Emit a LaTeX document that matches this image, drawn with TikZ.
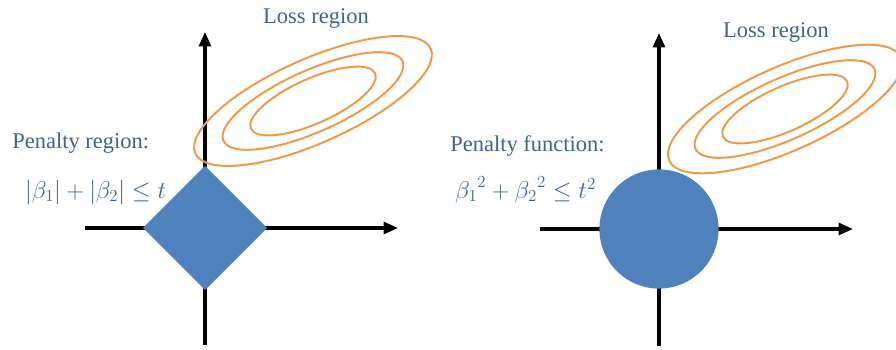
\documentclass[tikz,border=0pt]{standalone}
\usepackage{amsmath, amssymb}
\usepackage{fontspec}
\setmainfont{Liberation Serif}
\usetikzlibrary{arrows.meta}

\definecolor{penblue}{HTML}{4F81BD}
\definecolor{lossorange}{HTML}{F0984A}
\definecolor{labelblue}{HTML}{3E6196}

\tikzset{
  axis/.style={line width=2.2pt, -{Triangle[length=0.36cm, width=0.3cm]}},
  contour/.style={draw=lossorange, line width=1.4pt},
  lbl/.style={text=labelblue, font=\fontsize{16}{19}\selectfont, inner sep=0pt},
  eqn/.style={lbl, font=\fontsize{17.5}{21}\selectfont}
}

\begin{document}
\begin{tikzpicture}
			\useasboundingbox (0,0) rectangle (22.4,8.75);
			
			% Left panel: lasso
			\coordinate (O1) at (5.125,3.05);
			\coordinate (L1) at (2.125,3.05);
			\coordinate (R1) at (9.95,3.05);
			\coordinate (B1) at (5.125,0.125);
			\coordinate (T1) at (5.125,7.95);
			\draw[axis] (L1) -- (R1);
			\draw[axis] (B1) -- (T1);
			\fill[penblue] (O1) ++(-1.55,0) -- ++(1.55,1.55) -- ++(1.55,-1.55) -- ++(-1.55,-1.55) -- cycle;
			
			% Loss contours
			\coordinate (C1) at (7.825,6.225);
			\draw[contour, rotate around={24:(C1)}] (C1) ellipse (3.22 and 1.05);
			\draw[contour, rotate around={24:(C1)}] (C1) ellipse (2.45 and 0.77);
			\draw[contour, rotate around={24:(C1)}] (C1) ellipse (1.7 and 0.56);
			
			\node[lbl] (loss1) at (7.9,8.3) {Loss region};
			\node[lbl, anchor=west] (pen1) at (0.3,5.175) {Penalty region:};
			\node[eqn, anchor=west] (eq1) at (0.62,3.95) {$|\beta_1| + |\beta_2| \leq t$};
			
			% Right panel: ridge
			\coordinate (O2) at (16.475,3.025);
			\coordinate (L2) at (13.5,3.025);
			\coordinate (R2) at (21.325,3.025);
			\coordinate (B2) at (16.475,0.1);
			\coordinate (T2) at (16.475,7.925);
			\draw[axis] (L2) -- (R2);
			\draw[axis] (B2) -- (T2);
			\fill[penblue] (O2) circle (1.49);
			
			% Loss contours
			\coordinate (C2) at (19.625,6.025);
			\draw[contour, rotate around={24:(C2)}] (C2) ellipse (3.17 and 1.05);
			\draw[contour, rotate around={24:(C2)}] (C2) ellipse (2.45 and 0.77);
			\draw[contour, rotate around={24:(C2)}] (C2) ellipse (1.7 and 0.56);
			
			\node[lbl] (loss2) at (19.4,7.95) {Loss region};
			\node[lbl, anchor=west] (pen2) at (11.25,5.1) {Penalty function:};
			\node[eqn, anchor=west] (eq2) at (11.37,4.0) {${\beta_1}^2 + {\beta_2}^2 \leq t^2$};
			
		\end{tikzpicture}
\end{document}
